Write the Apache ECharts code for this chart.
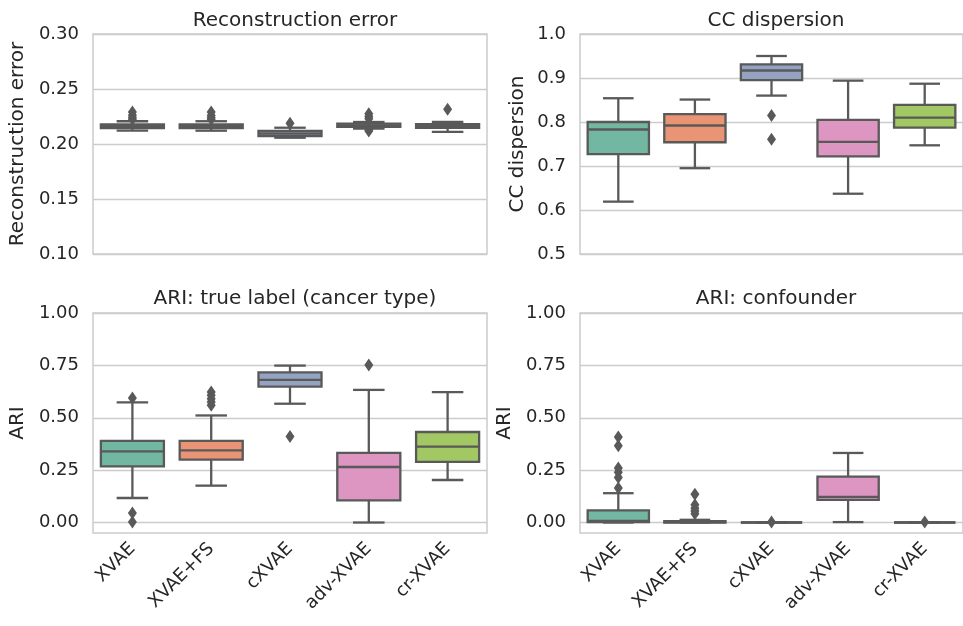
<!DOCTYPE html>
<html>
<head>
<meta charset="utf-8">
<script src="https://cdn.jsdelivr.net/npm/echarts@6/dist/echarts.min.js"></script>
<style>html,body{margin:0;padding:0;background:#fff;}#c{width:963px;height:626px;}</style>
</head>
<body>
<div id="c"></div>
<script>
// ---------- data ----------
const categories = ['XVAE', 'XVAE+FS', 'cXVAE', 'adv-XVAE', 'cr-XVAE'];

// [lower whisker, Q1, median, Q3, upper whisker]
const reconBoxes = [
  [0.2121, 0.2145, 0.2163, 0.2178, 0.2207],
  [0.2121, 0.2145, 0.2163, 0.2178, 0.2207],
  [0.2057, 0.2072, 0.2095, 0.2118, 0.2148],
  [0.2140, 0.2155, 0.2168, 0.2185, 0.2200],
  [0.2110, 0.2147, 0.2163, 0.2180, 0.2200]
];
const reconOutliers = [
  [0.2290, 0.2262, 0.2240, 0.2225],
  [0.2290, 0.2260, 0.2238, 0.2225],
  [0.2188],
  [0.2275, 0.2250, 0.2230, 0.2130, 0.2118],
  [0.2315]
];

const ccBoxes = [
  [0.619, 0.727, 0.783, 0.800, 0.854],
  [0.695, 0.754, 0.792, 0.818, 0.851],
  [0.860, 0.895, 0.917, 0.931, 0.950],
  [0.637, 0.722, 0.755, 0.805, 0.894],
  [0.747, 0.787, 0.810, 0.839, 0.887]
];
const ccOutliers = [
  [],
  [],
  [0.815, 0.761],
  [],
  []
];

const ariTrueBoxes = [
  [0.117, 0.268, 0.340, 0.390, 0.573],
  [0.176, 0.300, 0.344, 0.390, 0.511],
  [0.567, 0.649, 0.681, 0.717, 0.749],
  [0.000, 0.106, 0.265, 0.332, 0.633],
  [0.203, 0.289, 0.362, 0.432, 0.622]
];
const ariTrueOutliers = [
  [0.594, 0.045, 0.003],
  [0.623, 0.607, 0.591, 0.575, 0.560],
  [0.411],
  [0.752],
  []
];

const ariConfBoxes = [
  [0.000, 0.002, 0.008, 0.058, 0.140],
  [0.000, 0.000, 0.002, 0.006, 0.013],
  [0.000, 0.000, 0.000, 0.000, 0.001],
  [0.002, 0.108, 0.122, 0.219, 0.332],
  [0.000, 0.000, 0.000, 0.000, 0.001]
];
const ariConfOutliers = [
  [0.408, 0.366, 0.260, 0.240, 0.215, 0.165],
  [0.135, 0.085, 0.068, 0.055, 0.042],
  [0.002],
  [],
  [0.002]
];

const titles = ['Reconstruction error', 'CC dispersion', 'ARI: true label (cancer type)', 'ARI: confounder'];
const yNames = ['Reconstruction error', 'CC dispersion', 'ARI', 'ARI'];
const ariTicks = [0, 0.25, 0.5, 0.75, 1.0];

// ---------- style ----------
const boxColors = ['#72b7a1', '#e99575', '#95a3c3', '#dc96c1', '#a2c864'];
const lineColor = '#595959';
const textColor = '#262626';
const gridColor = '#cccccc';
const FONT = 'DejaVu Sans';

const grids = [
  { left: 93, top: 34, width: 394, height: 220 },
  { left: 580, top: 34, width: 394, height: 220 },
  { left: 93, top: 313, width: 394, height: 220 },
  { left: 580, top: 313, width: 394, height: 220 }
].map(g => Object.assign(g, { show: true, borderColor: gridColor, borderWidth: 1.5, backgroundColor: 'transparent' }));

function xAxis(i, showLabels) {
  return {
    type: 'category', gridIndex: i, data: categories, boundaryGap: true,
    axisLine: { show: false }, axisTick: { show: false }, splitLine: { show: false },
    axisLabel: {
      show: showLabels, rotate: 45, margin: 13, fontFamily: FONT, fontSize: 18, color: textColor
    }
  };
}

function yAxis(i, cfg) {
  const ax = {
    type: 'value', gridIndex: i, min: cfg.min, max: cfg.max,
    name: yNames[i], nameLocation: 'middle', nameGap: cfg.nameGap,
    nameTextStyle: { fontFamily: FONT, fontSize: 20, color: textColor },
    axisLine: { show: false },
    splitLine: { show: true, lineStyle: { color: gridColor, width: 1.4 } },
    axisLabel: {
      margin: 14, fontFamily: FONT, fontSize: 18, color: textColor,
      formatter: v => v.toFixed(cfg.dec)
    },
    axisTick: { show: false }
  };
  if (cfg.interval) ax.interval = cfg.interval;
  if (cfg.custom) {
    ax.axisLabel.customValues = cfg.custom;
    ax.axisTick.customValues = cfg.custom;
  }
  return ax;
}

function renderBox(params, api) {
  const i = api.value(0);
  const lo = api.coord([i, api.value(1)]);
  const q1 = api.coord([i, api.value(2)]);
  const md = api.coord([i, api.value(3)]);
  const q3 = api.coord([i, api.value(4)]);
  const hi = api.coord([i, api.value(5)]);
  const band = api.size([1, 0])[0];
  const w = band * 0.8, cw = w / 2;
  const x = lo[0];
  const ls = { stroke: lineColor, lineWidth: 2.3, fill: null };
  return {
    type: 'group',
    children: [
      { type: 'line', shape: { x1: x, y1: q3[1], x2: x, y2: hi[1] }, style: ls },
      { type: 'line', shape: { x1: x, y1: q1[1], x2: x, y2: lo[1] }, style: ls },
      { type: 'line', shape: { x1: x - cw / 2, y1: hi[1], x2: x + cw / 2, y2: hi[1] }, style: ls },
      { type: 'line', shape: { x1: x - cw / 2, y1: lo[1], x2: x + cw / 2, y2: lo[1] }, style: ls },
      { type: 'rect', shape: { x: x - w / 2, y: q3[1], width: w, height: q1[1] - q3[1] },
        style: { fill: boxColors[i], stroke: lineColor, lineWidth: 2.3 } },
      { type: 'line', shape: { x1: x - w / 2, y1: md[1], x2: x + w / 2, y2: md[1] }, style: ls }
    ]
  };
}

function boxSeries(i, boxes) {
  return {
    type: 'custom', xAxisIndex: i, yAxisIndex: i, renderItem: renderBox, z: 3,
    data: boxes.map((b, k) => [k].concat(b)),
    encode: { x: 0, y: [1, 2, 3, 4, 5] }
  };
}

function outlierSeries(i, outs) {
  const data = [];
  outs.forEach((arr, k) => arr.forEach(v => data.push([k, v])));
  return {
    type: 'scatter', xAxisIndex: i, yAxisIndex: i, z: 4,
    symbol: 'diamond', symbolSize: [9, 13],
    itemStyle: { color: lineColor, opacity: 1 },
    data: data
  };
}

const titleCenters = [[290, 6], [771, 6], [290, 284], [771, 284]];

const option = {
  animation: false,
  backgroundColor: '#ffffff',
  title: titles.map((t, i) => ({
    text: t, left: titleCenters[i][0], top: titleCenters[i][1], textAlign: 'center',
    textStyle: { fontFamily: FONT, fontSize: 20, fontWeight: 'normal', color: textColor }
  })),
  grid: grids,
  xAxis: [xAxis(0, false), xAxis(1, false), xAxis(2, true), xAxis(3, true)],
  yAxis: [
    yAxis(0, { min: 0.10, max: 0.30, interval: 0.05, dec: 2, nameGap: 65 }),
    yAxis(1, { min: 0.5, max: 1.0, interval: 0.1, dec: 1, nameGap: 52 }),
    yAxis(2, { min: -0.05, max: 1.0, custom: ariTicks, dec: 2, nameGap: 65 }),
    yAxis(3, { min: -0.05, max: 1.0, custom: ariTicks, dec: 2, nameGap: 65 })
  ],
  series: [
    boxSeries(0, reconBoxes), outlierSeries(0, reconOutliers),
    boxSeries(1, ccBoxes), outlierSeries(1, ccOutliers),
    boxSeries(2, ariTrueBoxes), outlierSeries(2, ariTrueOutliers),
    boxSeries(3, ariConfBoxes), outlierSeries(3, ariConfOutliers)
  ]
};

const chart = echarts.init(document.getElementById('c'), null, { renderer: 'canvas' });
chart.setOption(option);
</script>
</body>
</html>
